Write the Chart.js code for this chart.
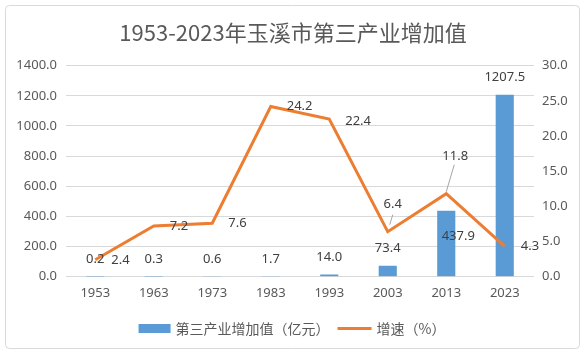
<!DOCTYPE html>
<html><head><meta charset="utf-8">
<script src="https://cdn.jsdelivr.net/npm/chart.js@4/dist/chart.umd.min.js"></script>
<style>html,body{margin:0;padding:0;background:#fff}#wrap{width:586px;height:357px;position:relative}</style>
</head><body><div id="wrap"><canvas id="c"></canvas></div>
<script>
const years = ['1953','1963','1973','1983','1993','2003','2013','2023'];
const addedValue = [0.2, 0.3, 0.6, 1.7, 14.0, 73.4, 437.9, 1207.5];
const growthRate = [2.4, 7.2, 7.6, 24.2, 22.4, 6.4, 11.8, 4.3];
const titleText = '1953-2023年玉溪市第三产业增加值';
const barLabelName = '第三产业增加值（亿元）';
const lineLabelName = '增速（%）';

const BLUE = '#5B9BD5', ORANGE = '#ED7D31', GRID = '#D9D9D9', TXT = '#595959', LBL = '#404040';
const NUMFONT = '"Noto Sans", sans-serif';
const CJKFONT = '"Noto Sans CJK SC", "Noto Sans", sans-serif';

// label placement tweaks (pixel offsets relative to the drawn element)
const barLabelShift = {6: {dx: 12, dy: 26}};
const lineLabelShift = {
  4: {dx: 16, dy: 2, align: 'left'},
  5: {dx: 5, dy: -27, align: 'center', leader: [2, -7, 5, -17]},
  6: {dx: 9, dy: -37, align: 'center', leader: [0, -2, 8, -29]}
};

const frame = {
  id: 'frame',
  beforeDraw(chart) {
    const c = chart.ctx;
    c.save();
    c.fillStyle = '#fff';
    c.fillRect(0, 0, chart.width, chart.height);
    c.strokeStyle = GRID;
    c.lineWidth = 1;
    c.beginPath();
    c.roundRect(5.5, 5.5, 574, 343, 4);
    c.stroke();
    c.restore();
  }
};

const labels = {
  id: 'labels',
  afterDatasetsDraw(chart) {
    const c = chart.ctx;
    c.save();
    c.font = '13px ' + NUMFONT;
    c.fillStyle = LBL;
    c.textBaseline = 'middle';
    chart.getDatasetMeta(0).data.forEach((el, i) => {
      const s = barLabelShift[i] || {dx: 0, dy: -17.5};
      c.textAlign = 'center';
      c.fillText(addedValue[i].toFixed(1), el.x + s.dx, el.y + s.dy);
    });
    chart.getDatasetMeta(1).data.forEach((el, i) => {
      const s = lineLabelShift[i] || {dx: 16, dy: 0, align: 'left'};
      if (s.leader) {
        c.strokeStyle = '#A6A6A6';
        c.lineWidth = 1;
        c.beginPath();
        c.moveTo(el.x + s.leader[0], el.y + s.leader[1]);
        c.lineTo(el.x + s.leader[2], el.y + s.leader[3]);
        c.stroke();
      }
      c.textAlign = s.align;
      c.fillText(growthRate[i].toFixed(1), el.x + s.dx, el.y + s.dy);
    });
    c.restore();
  },
  afterDraw(chart) {
    const c = chart.ctx;
    c.save();
    c.font = '14px ' + CJKFONT;
    c.fillStyle = TXT;
    c.textBaseline = 'middle';
    const w1 = c.measureText(barLabelName).width;
    const w2 = c.measureText(lineLabelName).width;
    const total = 32 + 5 + w1 + 8 + 34 + 5 + w2;
    let x = 292 - total / 2;
    const y = 328.5;
    c.fillStyle = BLUE;
    c.fillRect(x, y - 4.5, 32, 9);
    x += 37;
    c.fillStyle = TXT;
    c.textAlign = 'left';
    c.fillText(barLabelName, x, y);
    x += w1 + 8;
    c.strokeStyle = ORANGE;
    c.lineWidth = 3;
    c.beginPath();
    c.moveTo(x, y); c.lineTo(x + 34, y);
    c.stroke();
    x += 39;
    c.fillText(lineLabelName, x, y);
    c.restore();
  }
};

new Chart(document.getElementById('c'), {
  data: {
    labels: years,
    datasets: [
      {type: 'bar', label: barLabelName, data: addedValue, backgroundColor: BLUE,
       yAxisID: 'y', order: 2, categoryPercentage: 1, barPercentage: 0.31},
      {type: 'line', label: lineLabelName, data: growthRate, borderColor: ORANGE,
       borderWidth: 3, pointRadius: 0, tension: 0, yAxisID: 'y1', order: 1,
       borderJoinStyle: 'miter'}
    ]
  },
  options: {
    responsive: true, maintainAspectRatio: false, animation: false,
    layout: {padding: {left: 0, right: 0, top: 0, bottom: 50.3}},
    plugins: {
      legend: {display: false},
      tooltip: {enabled: false},
      title: {display: true, text: titleText, color: TXT,
        font: {family: CJKFONT, size: 22, weight: 'normal', lineHeight: 1.2},
        padding: {top: 19, bottom: 20.3}}
    },
    scales: {
      x: {
        grid: {display: false, drawTicks: false},
        border: {display: false},
        ticks: {color: TXT, font: {family: NUMFONT, size: 13}, padding: 9, maxRotation: 0},
        afterFit(s) { s.height = 30; }
      },
      y: {
        position: 'left', min: 0, max: 1400,
        grid: {color: GRID, drawTicks: false},
        border: {display: false},
        ticks: {stepSize: 200, color: TXT, font: {family: NUMFONT, size: 13}, padding: 9,
          callback: v => Number(v).toFixed(1)},
        afterFit(s) { s.width = 66; }
      },
      y1: {
        position: 'right', min: 0, max: 30,
        grid: {display: false, drawTicks: false},
        border: {display: false},
        ticks: {stepSize: 5, color: TXT, font: {family: NUMFONT, size: 13}, padding: 8,
          callback: v => Number(v).toFixed(1)},
        afterFit(s) { s.width = 52; }
      }
    }
  },
  plugins: [frame, labels]
});
</script></body></html>
